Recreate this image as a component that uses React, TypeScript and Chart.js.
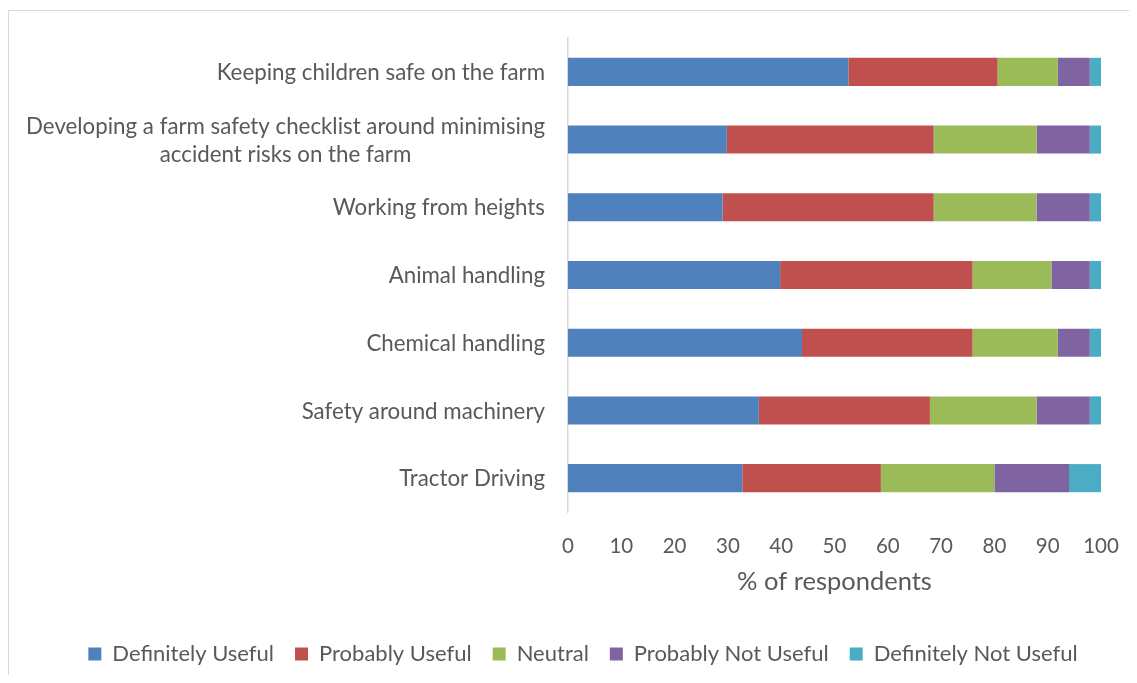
import React, { useEffect, useRef } from "react";
import { Chart, registerables } from "chart.js";

Chart.register(...registerables);

// Survey topics, top to bottom
const categories: (string | string[])[] = [
  "Keeping children safe on the farm",
  ["Developing a farm safety checklist around minimising", "accident risks on the farm"],
  "Working from heights",
  "Animal handling",
  "Chemical handling",
  "Safety around machinery",
  "Tractor Driving",
];

// Share of respondents (%) per answer
const definitelyUseful = [52.6, 29.8, 29.0, 39.8, 43.9, 35.8, 32.7];
const probablyUseful = [28.0, 38.8, 39.6, 36.1, 32.0, 32.1, 26.0];
const neutral = [11.3, 19.3, 19.3, 14.8, 16.0, 20.0, 21.3];
const probablyNotUseful = [6.0, 10.0, 10.0, 7.2, 6.0, 10.0, 14.0];
const definitelyNotUseful = [2.1, 2.1, 2.1, 2.1, 2.1, 2.1, 6.0];

const seriesNames = [
  "Definitely Useful",
  "Probably Useful",
  "Neutral",
  "Probably Not Useful",
  "Definitely Not Useful",
];
const seriesColors = ["#4F81BD", "#C0504D", "#9BBB59", "#8064A2", "#4BACC6"];

const xTicks = { min: 0, max: 100, step: 10 };
const xTitle = "% of respondents";

const FONT = "Lato, 'Noto Sans', sans-serif";
const TEXT = "#595959";
const CAT_SIZE = 22.3;
const CAT_LINE = 28.5;

// Category names drawn beside the y axis, multi-line names centred as a block
const categoryLabels = {
  id: "categoryLabels",
  afterDraw(chart: any) {
    const { ctx } = chart;
    const y = chart.scales.y;
    const rightEdge = y.right - 23;
    ctx.save();
    ctx.font = `${CAT_SIZE}px ${FONT}`;
    ctx.fillStyle = TEXT;
    ctx.textAlign = "center";
    ctx.textBaseline = "middle";
    (chart.data.labels as (string | string[])[]).forEach((label, i) => {
      const lines = Array.isArray(label) ? label : [label];
      const blockW = Math.max(...lines.map((l) => ctx.measureText(l).width));
      const cx = rightEdge - blockW / 2;
      const yc = y.getPixelForValue(i) + 1;
      lines.forEach((l, j) => {
        ctx.fillText(l, cx, yc + (j - (lines.length - 1) / 2) * CAT_LINE);
      });
    });
    ctx.restore();
  },
};

export default function App() {
  const canvasRef = useRef<HTMLCanvasElement | null>(null);

  useEffect(() => {
    let chart: Chart | null = null;
    let cancelled = false;
    const build = () => {
      if (cancelled || !canvasRef.current) return;
      const values = [
        definitelyUseful,
        probablyUseful,
        neutral,
        probablyNotUseful,
        definitelyNotUseful,
      ];
      chart = new Chart(canvasRef.current, {
        type: "bar",
        data: {
          labels: categories as any,
          datasets: values.map((data, k) => ({
            label: seriesNames[k],
            data,
            backgroundColor: seriesColors[k],
            borderWidth: 0,
            barPercentage: 0.415,
            categoryPercentage: 1,
          })),
        },
        options: {
          indexAxis: "y",
          responsive: false,
          animation: false,
          layout: { padding: { left: 57, right: 40, top: 30, bottom: 0 } },
          plugins: {
            tooltip: { enabled: false },
            legend: {
              position: "bottom",
              labels: {
                boxWidth: 13,
                boxHeight: 13,
                padding: 21,
                color: TEXT,
                font: { family: FONT, size: 22 },
              },
            },
          },
          scales: {
            x: {
              stacked: true,
              min: xTicks.min,
              max: xTicks.max,
              grid: { display: false, drawTicks: false },
              border: { display: false },
              ticks: {
                stepSize: xTicks.step,
                color: TEXT,
                font: { family: FONT, size: 20.5 },
                padding: 22,
                maxRotation: 0,
              },
              title: {
                display: true,
                text: xTitle,
                color: TEXT,
                font: { family: FONT, size: 25.5 },
                padding: { top: 0, bottom: 24.7 },
              },
              afterFit: (scale: any) => {
                scale.height = 110;
              },
            },
            y: {
              stacked: true,
              grid: { display: false, drawTicks: false },
              border: { display: true, color: "#D9D9D9", width: 1.5 },
              ticks: { display: false },
              afterFit: (scale: any) => {
                scale.width = 503;
              },
            },
          },
        },
        plugins: [categoryLabels],
      });
    };
    if (document.fonts && document.fonts.load) {
      document.fonts.load(`20px Lato`).then(build, build);
    } else {
      build();
    }
    return () => {
      cancelled = true;
      if (chart) chart.destroy();
    };
  }, []);

  return (
    <div
      style={{
        position: "relative",
        width: 1121,
        height: 667,
        overflow: "hidden",
        background: "#fff",
      }}
    >
      <div
        style={{
          position: "absolute",
          left: 0,
          top: 2,
          width: 1200,
          height: 800,
          border: "1px solid #D9D9D9",
          boxSizing: "border-box",
        }}
      />
      <canvas
        ref={canvasRef}
        width={1133}
        height={667}
        style={{ position: "absolute", left: 0, top: 0 }}
      />
    </div>
  );
}
